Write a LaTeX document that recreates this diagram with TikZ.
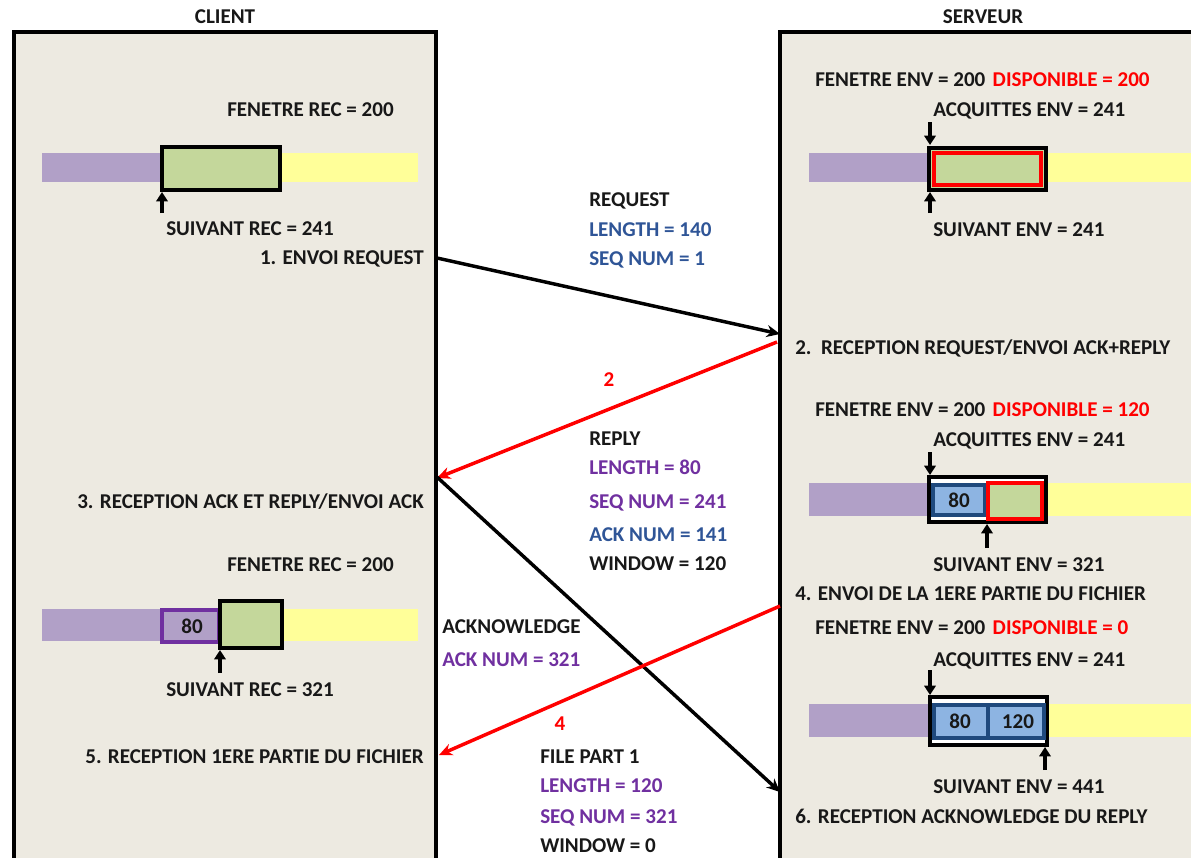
\documentclass[tikz,border=0pt]{standalone}
\usepackage{fontspec}
\setmainfont{Carlito}
\usetikzlibrary{arrows.meta}
\definecolor{panel}{RGB}{237,234,225}
\definecolor{lilac}{RGB}{177,160,199}
\definecolor{sage}{RGB}{196,215,155}
\definecolor{lemon}{RGB}{255,255,153}
\definecolor{cellblue}{RGB}{141,180,226}
\definecolor{navy}{RGB}{31,73,125}
\definecolor{ink}{RGB}{24,24,24}
\definecolor{fieldblue}{RGB}{47,85,151}
\definecolor{fieldpurple}{RGB}{112,48,160}
\definecolor{alert}{RGB}{255,0,0}
\begin{document}
\begin{tikzpicture}[x=0.75pt, y=-0.75pt,
  txt/.style={anchor=base west, inner sep=0pt, font=\bfseries\fontsize{15.8}{19}\selectfont, text=ink},
  rtxt/.style={txt, anchor=base east},
  ctxt/.style={txt, anchor=base},
  msg/.style={line width=2.6pt, -{Stealth[length=10pt,width=9pt]}},
  ptr/.style={line width=2.6pt, -{Triangle[length=7pt,width=8.5pt]}},
  panelbox/.style={draw=black, line width=2.6pt, fill=panel},
  winframe/.style={draw=black, line width=3pt},
  cellbox/.style={draw=navy, line width=3pt, fill=cellblue},
  opencell/.style={draw=alert, line width=3pt, fill=sage},
]
\useasboundingbox (0,0) rectangle (1191,857);
\fill[white] (0,0) rectangle (1191,857);

% the two hosts
\begin{scope}
  \clip (0,0) rectangle (1191,857);
  \draw[panelbox] (14,32) rectangle (436,900);
  \draw[panelbox] (780,32) rectangle (1230,900);
\end{scope}
\node[ctxt] (tclient) at (225,23) {CLIENT};
\node[ctxt] (tserveur) at (983,23) {SERVEUR};

% ---------- client, initial receive window
\node[txt] (cfen1) at (227,116.5) {FENETRE REC = 200};
\fill[lilac] (42,153) rectangle (162,182);
\fill[lemon] (280,153) rectangle (418,182);
\draw[winframe, fill=sage] (162,147) rectangle (280,190);
\coordinate (c1a) at (162,213); \coordinate (c1b) at (162,192);
\draw[ptr] (c1a) -- (c1b);
\node[txt] (csuiv1) at (166,235.5) {SUIVANT REC = 241};
\node[rtxt] (step1) at (424,264.5) {1. ENVOI REQUEST};

% ---------- client, after the reply
\node[rtxt] (step3) at (424,508.5) {3. RECEPTION ACK ET REPLY/ENVOI ACK};
\node[txt] (cfen2) at (227,571.5) {FENETRE REC = 200};
\fill[lilac] (42,609) rectangle (162,641);
\fill[lemon] (282,609) rectangle (418,641);
\draw[draw=fieldpurple, line width=3pt, fill=lilac] (162,610) rectangle (219,642);
\node[ctxt] (c80) at (192,633) {80};
\draw[winframe, fill=sage] (220,601) rectangle (282,648);
\coordinate (c2a) at (220,673); \coordinate (c2b) at (220,650);
\draw[ptr] (c2a) -- (c2b);
\node[txt] (csuiv2) at (166,696.5) {SUIVANT REC = 321};
\node[rtxt] (step5) at (424,763.5) {5. RECEPTION 1ERE PARTIE DU FICHIER};

% ---------- server, initial send window
\node[txt] (sfen1) at (815,86.5) {FENETRE ENV = 200\hspace{0.35em}\textcolor{alert}{DISPONIBLE = 200}};
\node[txt] (sacq1) at (933,116.5) {ACQUITTES ENV = 241};
\fill[lilac] (809,153) rectangle (929,182);
\fill[lemon] (1046,153) rectangle (1191,182);
\draw[winframe, fill=sage] (929,148) rectangle (1046,190);
\draw[opencell] (934,153) rectangle (1041,185);
\coordinate (s1a) at (930,122); \coordinate (s1b) at (930,145);
\draw[ptr] (s1a) -- (s1b);
\coordinate (s1c) at (930,213); \coordinate (s1d) at (930,192);
\draw[ptr] (s1c) -- (s1d);
\node[txt] (ssuiv1) at (933,236.5) {SUIVANT ENV = 241};
\node[txt] (step2) at (795,354.5) {2.\ \ RECEPTION REQUEST/ENVOI ACK+REPLY};

% ---------- server, after sending the reply
\node[txt] (sfen2) at (815,416) {FENETRE ENV = 200\hspace{0.35em}\textcolor{alert}{DISPONIBLE = 120}};
\node[txt] (sacq2) at (933,446) {ACQUITTES ENV = 241};
\fill[lilac] (809,483) rectangle (929,516);
\fill[lemon] (1046,483) rectangle (1191,516);
\draw[winframe, fill=white] (929,477) rectangle (1046,522);
\draw[cellbox] (933,484.5) rectangle (985,514.5);
\node[ctxt] (s80a) at (959,507) {80};
\draw[opencell] (988,483) rectangle (1042,518.5);
\coordinate (s2a) at (930,452); \coordinate (s2b) at (930,475);
\draw[ptr] (s2a) -- (s2b);
\coordinate (s2c) at (987,548); \coordinate (s2d) at (987,524);
\draw[ptr] (s2c) -- (s2d);
\node[txt] (ssuiv2) at (933,571.5) {SUIVANT ENV = 321};
\node[txt] (step4) at (795,600.5) {4. ENVOI DE LA 1ERE PARTIE DU FICHIER};

% ---------- server, after sending file part 1
\node[txt] (sfen3) at (815,634) {FENETRE ENV = 200\hspace{0.35em}\textcolor{alert}{DISPONIBLE = 0}};
\node[txt] (sacq3) at (933,666.5) {ACQUITTES ENV = 241};
\fill[lilac] (809,704) rectangle (930,737);
\fill[lemon] (1047,704) rectangle (1191,737);
\draw[winframe, fill=white] (930,697) rectangle (1047,745);
\draw[cellbox] (934,705) rectangle (988,737.5);
\draw[cellbox] (988,705) rectangle (1043.5,737.5);
\node[ctxt] (s80b) at (960,728) {80};
\node[ctxt] (s120) at (1018,728) {120};
\coordinate (s3a) at (930,670); \coordinate (s3b) at (930,695);
\draw[ptr] (s3a) -- (s3b);
\coordinate (s3c) at (1045,770); \coordinate (s3d) at (1045,747);
\draw[ptr] (s3c) -- (s3d);
\node[txt] (ssuiv3) at (933,793) {SUIVANT ENV = 441};
\node[txt] (step6) at (795,823) {6. RECEPTION ACKNOWLEDGE DU REPLY};

% ---------- segments exchanged
\coordinate (reqFrom) at (437,258);
\coordinate (reqTo) at (780,334);
\coordinate (repFrom) at (777,342);
\coordinate (repTo) at (437,478);
\coordinate (ackFrom) at (437,477);
\coordinate (ackTo) at (780,792);
\coordinate (fileFrom) at (780,606);
\coordinate (fileTo) at (439,755);

\draw[msg] (reqFrom) -- (reqTo);
\draw[msg, alert] (repFrom) -- (repTo);
\draw[msg] (ackFrom) -- (ackTo);
\draw[msg, alert] (fileFrom) -- (fileTo);

% ---------- segment contents
\node[txt] (mreq) at (589,206.5) {REQUEST};
\node[txt, text=fieldblue] (mreqlen) at (589,236.5) {LENGTH = 140};
\node[txt, text=fieldblue] (mreqseq) at (589,265.5) {SEQ NUM = 1};

\node[ctxt, text=alert] (n2) at (609,386.5) {2};
\node[txt] (mrep) at (589,445.5) {REPLY};
\node[txt, text=fieldpurple] (mreplen) at (589,474.5) {LENGTH = 80};
\node[txt, text=fieldpurple] (mrepseq) at (589,508.5) {SEQ NUM = 241};
\node[txt, text=fieldblue] (mrepack) at (589,541.5) {ACK NUM = 141};
\node[txt] (mrepwin) at (589,570.5) {WINDOW = 120};

\node[txt] (mack) at (442,633.5) {ACKNOWLEDGE};
\node[txt, text=fieldpurple] (mackack) at (442,666.5) {ACK NUM = 321};

\node[ctxt, text=alert] (n4) at (560,730.5) {4};
\node[txt] (mfile) at (540,763.5) {FILE PART 1};
\node[txt, text=fieldpurple] (mfilelen) at (540,792.5) {LENGTH = 120};
\node[txt, text=fieldpurple] (mfileseq) at (540,823.5) {SEQ NUM = 321};
\node[txt] (mfilewin) at (540,852.5) {WINDOW = 0};
\end{tikzpicture}
\end{document}
